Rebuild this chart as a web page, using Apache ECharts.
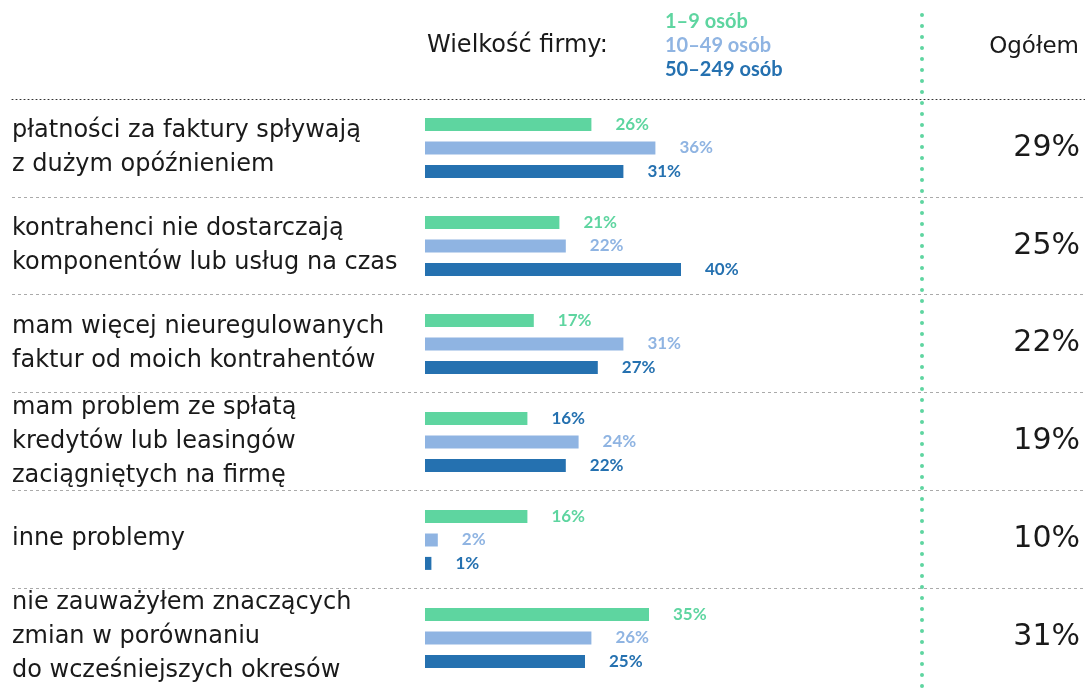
<!DOCTYPE html>
<html>
<head>
<meta charset="utf-8">
<title>Wielkość firmy</title>
<script src="https://cdn.jsdelivr.net/npm/echarts@6/dist/echarts.min.js"></script>
<style>
  html, body { margin: 0; padding: 0; background: #fff; }
  #main { width: 1085px; height: 688px; }
</style>
</head>
<body>
<div id="main"></div>
<script type="text/javascript">
// kategorie problemów (etykiety po lewej)
var categories = [
    'płatności za faktury spływają\nz dużym opóźnieniem',
    'kontrahenci nie dostarczają\nkomponentów lub usług na czas',
    'mam więcej nieuregulowanych\nfaktur od moich kontrahentów',
    'mam problem ze spłatą\nkredytów lub leasingów\nzaciągniętych na firmę',
    'inne problemy',
    'nie zauważyłem znaczących\nzmian w porównaniu\ndo wcześniejszych okresów'
];
var seriesNames = ['1–9 osób', '10–49 osób', '50–249 osób'];
var small = [26, 21, 17, 16, 16, 35];   // 1-9 osób
var medium = [36, 22, 31, 24, 2, 26];   // 10-49 osób
var large = [31, 40, 27, 22, 1, 25];    // 50-249 osób
var totals = [29, 25, 22, 19, 10, 31];  // Ogółem

var colors = ['#5ED5A0', '#8FB4E2', '#2571B0'];
var font = 'DejaVu Sans';
var boldFont = 'Lato';

var myChart = echarts.init(document.getElementById('main'));

// w oryginale etykieta 16% w czwartej grupie jest ciemnoniebieska
var smallData = small.map(function (v, i) {
    if (i === 3) return { value: v, label: { color: colors[2] } };
    return v;
});

function barSeries(name, data, idx) {
    return {
        name: name,
        type: 'bar',
        xAxisIndex: 1,
        yAxisIndex: 2,
        data: data,
        barWidth: 13,
        barGap: '80%',
        itemStyle: { color: colors[idx] },
        label: {
            show: true,
            position: 'right',
            distance: 24,
            formatter: '{c}%',
            color: colors[idx],
            fontFamily: boldFont,
            fontWeight: 'bold',
            fontSize: 17
        },
        silent: true
    };
}

var option = {
    animation: false,
    title: [
        { text: 'Wielkość firmy:', left: 422, top: 29,
          textStyle: { fontFamily: font, fontWeight: 'normal', fontSize: 24, color: '#1a1a1a' } },
        { text: 'Ogółem', right: 1, top: 31,
          textStyle: { fontFamily: font, fontWeight: 'normal', fontSize: 23, color: '#1a1a1a' } }
    ],
    legend: {
        orient: 'vertical',
        left: 655,
        top: 7,
        icon: 'none',
        itemWidth: 0,
        itemHeight: 14,
        itemGap: 4,
        selectedMode: false,
        data: seriesNames.map(function (n, i) {
            return { name: n, textStyle: { color: colors[i] } };
        }),
        textStyle: { fontFamily: boldFont, fontWeight: 'bold', fontSize: 20 }
    },
    grid: [
        { left: 12, right: 0, top: 99, height: 588 },
        { left: 425, right: 20, top: 99, height: 588 }
    ],
    xAxis: [
        {
            gridIndex: 0, type: 'value', position: 'top', min: 0, max: 1,
            axisLine: { show: true, lineStyle: { color: '#333', type: [1, 3], width: 1 } },
            axisTick: { show: false }, axisLabel: { show: false }, splitLine: { show: false }
        },
        {
            gridIndex: 1, type: 'value', min: 0, max: 100, show: false
        }
    ],
    yAxis: [
        {
            gridIndex: 0, type: 'category', inverse: true, data: categories,
            axisLine: { show: false }, axisTick: { show: false },
            axisLabel: {
                inside: true, margin: 0, align: 'left', interval: 0,
                fontFamily: font, fontSize: 24, lineHeight: 34, color: '#1a1a1a'
            },
            splitLine: {
                show: true, interval: 0,
                lineStyle: {
                    color: ['rgba(0,0,0,0)', '#aaa', '#aaa', '#aaa', '#aaa', '#aaa', 'rgba(0,0,0,0)'],
                    type: [3, 3], width: 1
                }
            }
        },
        {
            gridIndex: 0, type: 'category', inverse: true, position: 'right', data: categories,
            axisLine: { show: false }, axisTick: { show: false }, splitLine: { show: false },
            axisLabel: {
                inside: true, margin: 5, align: 'right', interval: 0,
                formatter: function (v, i) { return totals[i] + '%'; },
                fontFamily: font, fontSize: 30, color: '#1a1a1a'
            }
        },
        {
            gridIndex: 1, type: 'category', inverse: true, data: categories, show: false
        }
    ],
    graphic: [
        {
            type: 'line',
            silent: true,
            shape: { x1: 922, y1: 15, x2: 922, y2: 688 },
            style: { stroke: colors[0], lineWidth: 4, lineDash: [0, 11], lineCap: 'round' }
        }
    ],
    series: [
        barSeries(seriesNames[0], smallData, 0),
        barSeries(seriesNames[1], medium, 1),
        barSeries(seriesNames[2], large, 2)
    ]
};

myChart.setOption(option);
</script>
</body>
</html>
